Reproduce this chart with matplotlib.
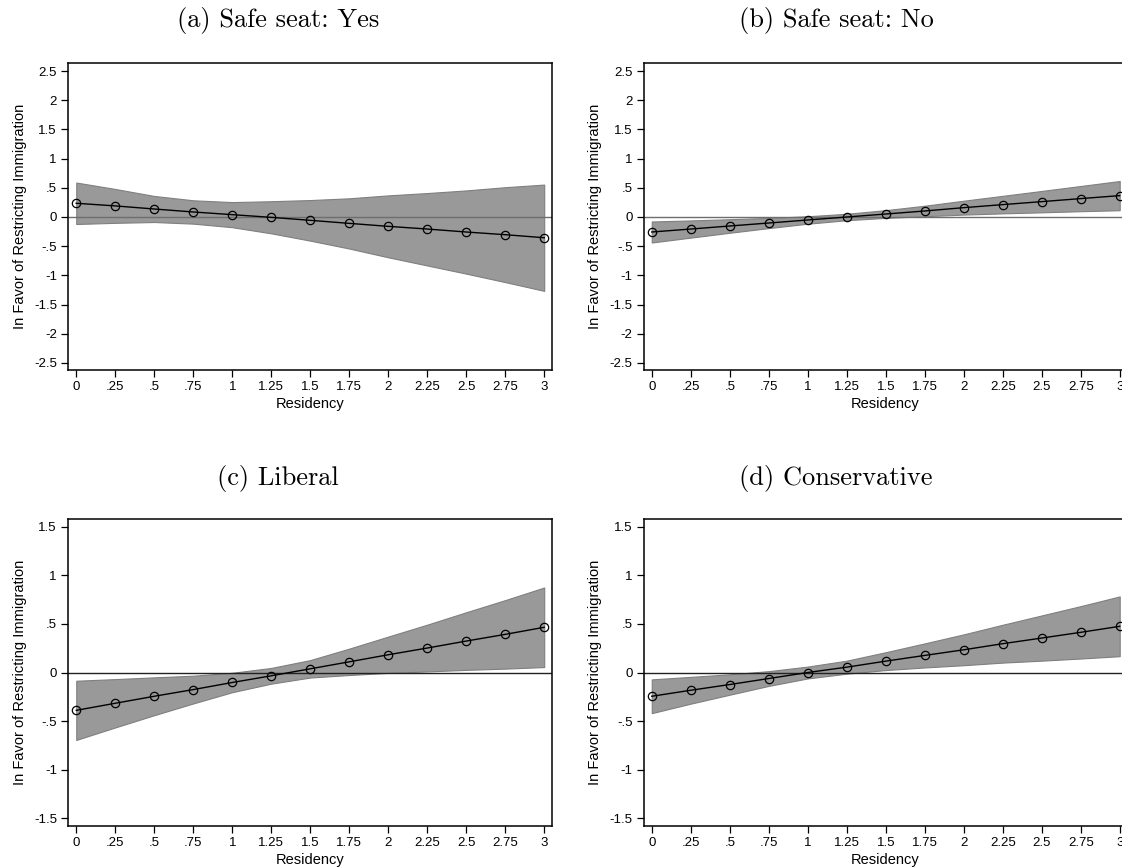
import numpy as np
import matplotlib
matplotlib.use('agg')
import matplotlib.pyplot as plt

# Residency grid
residency = [0, 0.25, 0.5, 0.75, 1, 1.25, 1.5, 1.75, 2, 2.25, 2.5, 2.75, 3]
x_labels = ['0', '.25', '.5', '.75', '1', '1.25', '1.5', '1.75', '2', '2.25', '2.5', '2.75', '3']

# (a) Safe seat: Yes
safe_yes_fit = [0.235, 0.19, 0.137, 0.086, 0.04, -0.006, -0.057, -0.109, -0.16, -0.206, -0.257, -0.303, -0.355]
safe_yes_hi = [0.59, 0.48, 0.36, 0.286, 0.255, 0.27, 0.29, 0.32, 0.37, 0.41, 0.455, 0.51, 0.555]
safe_yes_lo = [-0.12, -0.1, -0.086, -0.114, -0.175, -0.28, -0.405, -0.54, -0.69, -0.83, -0.97, -1.115, -1.265]

# (b) Safe seat: No
safe_no_fit = [-0.257, -0.206, -0.154, -0.103, -0.051, 0.0, 0.051, 0.103, 0.16, 0.212, 0.263, 0.315, 0.366]
safe_no_hi = [-0.077, -0.059, -0.038, -0.016, 0.013, 0.055, 0.117, 0.193, 0.279, 0.362, 0.446, 0.531, 0.616]
safe_no_lo = [-0.437, -0.353, -0.27, -0.19, -0.115, -0.055, -0.015, 0.013, 0.041, 0.062, 0.08, 0.099, 0.116]

# (c) Liberal
liberal_fit = [-0.39, -0.317, -0.245, -0.176, -0.103, -0.034, 0.038, 0.11, 0.183, 0.252, 0.324, 0.393, 0.466]
liberal_hi = [-0.085, -0.068, -0.05, -0.033, -0.003, 0.047, 0.128, 0.246, 0.37, 0.493, 0.621, 0.746, 0.876]
liberal_lo = [-0.695, -0.566, -0.44, -0.319, -0.203, -0.115, -0.052, -0.026, -0.004, 0.011, 0.027, 0.04, 0.056]

# (d) Conservative
conserv_fit = [-0.245, -0.183, -0.124, -0.062, 0.0, 0.055, 0.117, 0.176, 0.234, 0.297, 0.355, 0.414, 0.476]
conserv_hi = [-0.071, -0.045, -0.019, 0.014, 0.061, 0.122, 0.209, 0.3, 0.393, 0.492, 0.588, 0.684, 0.784]
conserv_lo = [-0.419, -0.321, -0.229, -0.138, -0.061, -0.012, 0.025, 0.052, 0.075, 0.102, 0.122, 0.144, 0.168]

y_ticks_wide = [2.5, 2, 1.5, 1, 0.5, 0, -0.5, -1, -1.5, -2, -2.5]
y_labels_wide = ['2.5', '2', '1.5', '1', '.5', '0', '-.5', '-1', '-1.5', '-2', '-2.5']
y_ticks_narrow = [1.5, 1, 0.5, 0, -0.5, -1, -1.5]
y_labels_narrow = ['1.5', '1', '.5', '0', '-.5', '-1', '-1.5']

panels = [
    ('(a) Safe seat: Yes', safe_yes_fit, safe_yes_lo, safe_yes_hi, 'wide', '#6e6e6e'),
    ('(b) Safe seat: No', safe_no_fit, safe_no_lo, safe_no_hi, 'wide', '#6e6e6e'),
    ('(c) Liberal', liberal_fit, liberal_lo, liberal_hi, 'narrow', '#222222'),
    ('(d) Conservative', conserv_fit, conserv_lo, conserv_hi, 'narrow', '#222222'),
]

W, H = 1122, 867
plt.rcParams['font.family'] = ['Liberation Sans', 'DejaVu Sans']
fig = plt.figure(figsize=(W / 100, H / 100), dpi=100)

# axes boxes in pixels: left, top, right, bottom (right column runs off the page, as in the original)
boxes = [(68, 63, 552, 370), (643.5, 63, 1127.5, 370),
         (68, 519, 552, 826), (643.5, 519, 1127.5, 826)]
title_pos = [(278, 20), (836, 20), (278, 478), (836, 478)]

for (title, fit, lo, hi, scale, zcol), (l, t, r, b), (tx, ty) in zip(panels, boxes, title_pos):
    ax = fig.add_axes([l / W, 1 - b / H, (r - l) / W, (b - t) / H])
    ax.fill_between(residency, lo, hi, color='#999999', edgecolor='#7f7f7f', linewidth=0.8, zorder=1)
    ax.axhline(0, color=zcol, linewidth=1.0, zorder=2)
    ax.plot(residency, fit, color='black', linewidth=1.0, marker='o', markersize=6,
            markerfacecolor='none', markeredgecolor='black', markeredgewidth=0.9, zorder=3)

    ax.set_xlim(-0.053, 3.05)
    ax.set_xticks(residency)
    ax.set_xticklabels(x_labels)
    if scale == 'wide':
        ax.set_ylim(-2.62, 2.637)
        ax.set_yticks(y_ticks_wide)
        ax.set_yticklabels(y_labels_wide)
    else:
        ax.set_ylim(-1.582, 1.582)
        ax.set_yticks(y_ticks_narrow)
        ax.set_yticklabels(y_labels_narrow)

    ax.tick_params(direction='out', length=5, width=0.9, labelsize=9.5, pad=3)
    for s in ax.spines.values():
        s.set_linewidth(1.1)
        s.set_color('black')
    ax.set_xlabel('Residency', fontsize=10.5, labelpad=3)
    ax.set_ylabel('In Favor of Restricting Immigration', fontsize=10.5, labelpad=5)

    fig.text(tx / W, 1 - ty / H, title, ha='center', va='center',
             fontsize=19, family='cmr10')

fig.savefig('out.png', dpi=100)
